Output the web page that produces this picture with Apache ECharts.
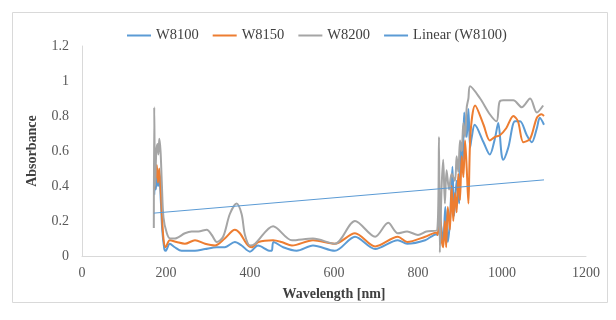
<!DOCTYPE html>
<html>
<head>
<meta charset="utf-8">
<script src="https://cdn.jsdelivr.net/npm/echarts@6.0.0/dist/echarts.min.js"></script>
<style>
  html, body { margin: 0; padding: 0; background: #fff; }
  #chart { width: 616px; height: 320px; }
</style>
</head>
<body>
<div id="chart"></div>
<script>
// absorbance spectra (wavelength in nm)
const wl8100 = [172, 174, 176, 178, 181, 184, 188, 191, 196, 199, 209, 221, 237, 269, 293, 321, 340, 364, 380, 400,
  419, 448, 452, 456, 479, 511, 550, 602, 650, 698, 752, 774, 817, 844, 846, 853, 860, 865, 871, 876,
  882, 886, 892, 898, 902, 906, 910, 916, 920, 924, 928, 935, 956, 971, 983, 991, 999, 1003, 1015, 1031,
  1043, 1059, 1071, 1083, 1090, 1100]
const abs8100 = [0.35, 0.44, 0.38, 0.47, 0.40, 0.45, 0.30, 0.15, 0.04, 0.03, 0.07, 0.05, 0.03, 0.03, 0.04, 0.05, 0.05, 0.08, 0.06, 0.025,
  0.06, 0.03, 0.03, 0.08, 0.05, 0.03, 0.06, 0.03, 0.11, 0.04, 0.09, 0.07, 0.09, 0.125, 0.12, 0.20, 0.08, 0.28, 0.08, 0.20,
  0.51, 0.23, 0.43, 0.30, 0.62, 0.51, 0.82, 0.68, 0.84, 0.62, 0.68, 0.75, 0.65, 0.58, 0.67, 0.76, 0.58, 0.55, 0.62, 0.77,
  0.77, 0.69, 0.65, 0.73, 0.79, 0.75]

const wl8150 = [172, 174, 176, 178, 181, 184, 187, 190, 194, 199, 209, 225, 245, 269, 293, 317, 340, 364, 376, 392,
  404, 420, 455, 475, 500, 550, 602, 650, 698, 752, 774, 817, 844, 847, 852, 856, 860, 864, 867, 871,
  876, 880, 884, 888, 892, 896, 900, 904, 908, 912, 916, 920, 925, 936, 956, 971, 983, 995, 1010, 1027,
  1038, 1051, 1067, 1083, 1094, 1100]
const abs8150 = [0.38, 0.50, 0.45, 0.52, 0.42, 0.50, 0.40, 0.25, 0.10, 0.05, 0.09, 0.08, 0.07, 0.09, 0.07, 0.06, 0.10, 0.15, 0.13, 0.07,
  0.05, 0.08, 0.09, 0.08, 0.06, 0.09, 0.07, 0.13, 0.055, 0.11, 0.08, 0.11, 0.135, 0.12, 0.28, 0.10, 0.05, 0.20, 0.05, 0.28,
  0.15, 0.40, 0.20, 0.36, 0.25, 0.47, 0.32, 0.57, 0.45, 0.66, 0.50, 0.30, 0.70, 0.86, 0.75, 0.66, 0.68, 0.69, 0.73, 0.80,
  0.77, 0.65, 0.67, 0.79, 0.81, 0.80]

const wl8200 = [171, 172, 174, 177, 180, 182, 184, 187, 190, 194, 202, 210, 221, 245, 261, 277, 297, 309, 321, 336,
  352, 368, 380, 388, 400, 412, 455, 500, 550, 602, 650, 698, 729, 752, 774, 800, 820, 846, 850, 852,
  856, 860, 864, 868, 874, 880, 888, 892, 896, 900, 904, 908, 912, 916, 920, 924, 948, 971, 987, 994,
  1003, 1027, 1047, 1067, 1083, 1098]
const abs8200 = [0.16, 0.85, 0.40, 0.60, 0.64, 0.58, 0.67, 0.60, 0.42, 0.22, 0.13, 0.10, 0.10, 0.13, 0.14, 0.14, 0.15, 0.12, 0.08, 0.11,
  0.24, 0.30, 0.24, 0.12, 0.06, 0.07, 0.17, 0.09, 0.10, 0.07, 0.20, 0.11, 0.19, 0.13, 0.14, 0.12, 0.14, 0.15, 0.68, 0.02,
  0.38, 0.55, 0.30, 0.49, 0.38, 0.47, 0.43, 0.57, 0.48, 0.66, 0.60, 0.76, 0.68, 0.85, 0.90, 0.97, 0.90, 0.81, 0.77, 0.88,
  0.89, 0.89, 0.85, 0.90, 0.82, 0.86]

// linear trendline of W8100, end points
const trendWl = [171, 1100]
const trendAbs = [0.245, 0.435]

const seriesNames = ['W8100', 'W8150', 'W8200', 'Linear (W8100)']
const seriesColors = ['#5b9bd5', '#ed7d31', '#a5a5a5', '#5b9bd5']

const toPairs = (xs, ys) => xs.map((x, i) => [x, ys[i]])
const serif = '"Liberation Serif", "Times New Roman", serif'

const chart = echarts.init(document.getElementById('chart'))

const spectrum = (i, xs, ys) => ({
  name: seriesNames[i],
  type: 'line',
  smooth: 0.3,
  symbol: 'none',
  lineStyle: { width: 2, color: seriesColors[i] },
  itemStyle: { color: seriesColors[i] },
  data: toPairs(xs, ys),
})

chart.setOption({
  animation: false,
  textStyle: { fontFamily: serif },
  graphic: [
    {
      type: 'rect',
      z: -1,
      shape: { x: 12.5, y: 12.5, width: 595, height: 290 },
      style: { fill: '#fff', stroke: '#d9d9d9', lineWidth: 1 },
    },
  ],
  legend: {
    left: 122,
    top: 23,
    icon: 'rect',
    itemWidth: 24,
    itemHeight: 2,
    itemGap: 14,
    textStyle: { fontSize: 14.5, color: '#404040', fontFamily: serif },
    data: seriesNames.map((name, i) => ({
      name,
      itemStyle: { color: seriesColors[i] },
    })),
  },
  grid: { left: 82, right: 30, top: 46, bottom: 64 },
  xAxis: {
    type: 'value',
    min: 0,
    max: 1200,
    interval: 200,
    name: 'Wavelength [nm]',
    nameLocation: 'middle',
    nameGap: 31,
    nameTextStyle: { fontWeight: 'bold', fontSize: 14, color: '#404040', fontFamily: serif },
    axisLine: { lineStyle: { color: '#d9d9d9' } },
    axisTick: { show: false },
    axisLabel: { fontSize: 14, color: '#595959', margin: 10, fontFamily: serif, formatter: (v) => String(v) },
    splitLine: { show: false },
  },
  yAxis: {
    type: 'value',
    min: 0,
    max: 1.2,
    interval: 0.2,
    name: 'Absorbance',
    nameLocation: 'middle',
    nameGap: 43,
    nameTextStyle: { fontWeight: 'bold', fontSize: 14, color: '#404040', fontFamily: serif },
    axisLine: { show: true, lineStyle: { color: '#d9d9d9' } },
    axisTick: { show: false },
    axisLabel: { fontSize: 14, color: '#595959', margin: 13, fontFamily: serif },
    splitLine: { show: false },
  },
  series: [
    spectrum(0, wl8100, abs8100),
    spectrum(1, wl8150, abs8150),
    spectrum(2, wl8200, abs8200),
    {
      name: seriesNames[3],
      type: 'line',
      symbol: 'none',
      lineStyle: { width: 1, color: seriesColors[3] },
      itemStyle: { color: seriesColors[3] },
      data: toPairs(trendWl, trendAbs),
    },
  ],
})
</script>
</body>
</html>
